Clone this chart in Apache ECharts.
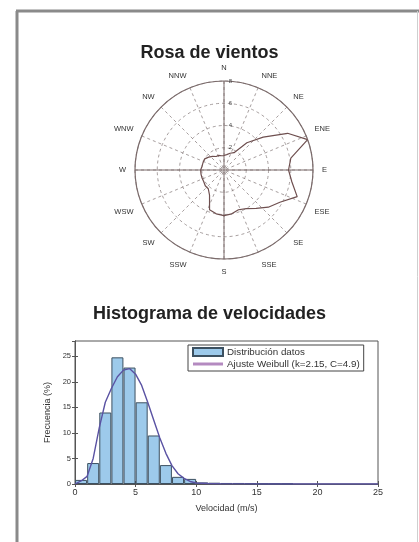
<!DOCTYPE html>
<html><head><meta charset="utf-8">
<script src="https://cdn.jsdelivr.net/npm/echarts@6/dist/echarts.min.js"></script>
<style>html,body{margin:0;padding:0;background:#fff}#c{width:419px;height:542px}</style>
</head><body><div id="c"></div>
<script>
// ---- Wind rose data ----
const directionLabels = ['N','NNE','NE','ENE','E','ESE','SE','SSE','S','SSW','SW','WSW','W','WNW','NW','NNW'];
const roseBearings = [0,10,20,30,40,50,60,70,80,90,100,110,120,130,140,150,160,170,180,190,200,210,220,230,240,250,260,270,280,290,300,310,320,330,340,350];
const roseValues = [1.3,1.4,1.6,1.8,3.2,4.6,6.6,8.0,6.1,5.8,6.2,7.0,5.8,5.2,4.5,4.0,3.8,4.0,4.1,4.0,3.8,2.6,2.2,2.2,2.1,2.1,2.1,2.1,2.0,2.0,2.0,1.8,1.6,1.4,1.4,1.3];
const radiusTicks = [2,4,6,8];

// ---- Histogram data ----
const binCenters = [0.5,1.5,2.5,3.5,4.5,5.5,6.5,7.5,8.5,9.5,10.5,11.5,12.5,13.5,14.5,15.5,16.5,17.5];
const binFreq = [0.8,4.1,14.0,24.8,22.8,16.0,9.5,3.7,1.4,1.0,0.3,0.25,0.2,0.2,0.15,0.1,0.1,0.1];
const fitX = [0,0.5,1,1.5,2,2.5,3,3.5,4,4.5,5,5.5,6,6.5,7,7.5,8,8.5,9,9.5,10,11,12,14,16,18,20,22,25];
const fitY = [0,0.6,1.5,5.0,11.0,16.0,18.7,21.0,22.3,22.6,21.5,19.3,16.0,12.5,9.0,6.0,3.6,2.0,1.1,0.5,0.2,0.1,0.05,0.02,0.01,0,0,0,0];
const xTicks = [0,5,10,15,20,25];
const yTicks = [0,5,10,15,20,25];

const chart = echarts.init(document.getElementById('c'), null, {renderer:'canvas'});
const gridCol = '#8f8585';
const font = 'Liberation Sans, Arial, sans-serif';

const roseData = roseBearings.map((b,i)=>[roseValues[i], b]);
roseData.push([roseValues[0], roseBearings[0]]);

const option = {
  backgroundColor:'#fff',
  animation:false,
  title:[
    {text:'Rosa de vientos', left:'center', top:39, textStyle:{fontFamily:font, fontSize:18, fontWeight:'bold', color:'#222'}},
    {text:'Histograma de velocidades', left:'center', top:300, textStyle:{fontFamily:font, fontSize:18, fontWeight:'bold', color:'#222'}}
  ],
  graphic:[
    {type:'line', shape:{x1:17, y1:11, x2:17, y2:542}, style:{stroke:'#8a8a8a', lineWidth:3}},
    {type:'line', shape:{x1:16, y1:11, x2:419, y2:11}, style:{stroke:'#8a8a8a', lineWidth:3}},
    {type:'line', shape:{x1:417.5, y1:11, x2:417.5, y2:542}, style:{stroke:'#cfcfcf', lineWidth:1}}
  ],
  polar:[
    {center:[224,170], radius:89},
    {center:[224,170], radius:89}
  ],
  angleAxis:[
    {polarIndex:0, type:'value', min:0, max:360, interval:22.5, startAngle:90, clockwise:true,
     axisLine:{show:true, lineStyle:{color:'#7a6a6a', width:1.2}},
     axisTick:{show:false},
     axisLabel:{margin:9, fontSize:7.5, fontFamily:font, color:'#333',
       formatter:v=>directionLabels[Math.round(v/22.5)%16]},
     splitLine:{show:true, lineStyle:{color:gridCol, type:[3,3], width:0.8}}},
    {polarIndex:1, type:'value', min:0, max:360, interval:90, startAngle:90,
     axisLine:{show:false}, axisTick:{show:false}, axisLabel:{show:false},
     splitLine:{show:true, lineStyle:{color:'#7a6a6a', width:1}}}
  ],
  radiusAxis:[
    {polarIndex:0, type:'value', min:0, max:8, interval:2,
     axisLine:{show:false}, axisTick:{show:false},
     axisLabel:{show:true, fontSize:6, fontFamily:font, color:'#444', margin:-8, formatter:v=>v===0?'':String(v)},
     splitLine:{show:true, lineStyle:{color:gridCol, type:[3,3], width:0.8}}},
    {polarIndex:1, type:'value', min:0, max:8,
     axisLine:{show:false}, axisTick:{show:false}, axisLabel:{show:false}, splitLine:{show:false}}
  ],
  grid:{left:75, right:41, top:341, bottom:58, show:true, borderColor:'#555', borderWidth:1, backgroundColor:'transparent'},
  xAxis:[
    {type:'value', min:0, max:25, interval:5, name:'Velocidad (m/s)', nameLocation:'middle', nameGap:20,
     nameTextStyle:{fontSize:9, fontFamily:font, color:'#333'},
     axisLine:{show:true, lineStyle:{color:'#555'}},
     axisTick:{show:true, inside:true, length:3, lineStyle:{color:'#555'}},
     axisLabel:{fontSize:9, fontFamily:font, color:'#333', margin:4},
     splitLine:{show:false}},
    {type:'value', min:0, max:25, interval:5, position:'top',
     axisLine:{show:true, lineStyle:{color:'#555'}},
     axisTick:{show:true, inside:true, length:3, lineStyle:{color:'#555'}},
     axisLabel:{show:false}, splitLine:{show:false}}
  ],
  yAxis:[
    {type:'value', min:0, max:28, interval:5, name:'Frecuencia (%)', nameLocation:'middle', nameGap:18,
     nameTextStyle:{fontSize:9, fontFamily:font, color:'#333'},
     axisLine:{show:true, lineStyle:{color:'#555'}},
     axisTick:{show:true, inside:true, length:3, lineStyle:{color:'#555'}},
     axisLabel:{fontSize:7.5, fontFamily:font, color:'#333', margin:4, showMaxLabel:false,
       formatter:v=>yTicks.indexOf(v)>=0?String(v):''},
     splitLine:{show:false}},
    {type:'value', min:0, max:28, interval:5, position:'right',
     axisLine:{show:true, lineStyle:{color:'#555'}},
     axisTick:{show:true, inside:true, length:3, lineStyle:{color:'#555'}},
     axisLabel:{show:false}, splitLine:{show:false}}
  ],
  legend:{
    orient:'vertical', left:188, top:345, itemWidth:30, itemHeight:8, itemGap:2,
    padding:[2,4,2,4], backgroundColor:'#fff', borderColor:'#444', borderWidth:1, borderRadius:0,
    textStyle:{fontSize:9.8, fontFamily:font, color:'#333', padding:[0,0,0,-1]},
    data:[{name:'Distribución datos', icon:'rect'},
          {name:'Ajuste Weibull (k=2.15, C=4.9)', icon:'path://M0,45 L100,45 L100,55 L0,55 Z'}]
  },
  series:[
    {type:'line', coordinateSystem:'polar', polarIndex:0, data:roseData, symbol:'none',
     lineStyle:{color:'#6e4f4f', width:1.2}, silent:true},
    {name:'Distribución datos', type:'bar', xAxisIndex:0, yAxisIndex:0, barWidth:12,
     data:binCenters.map((x,i)=>[x, binFreq[i]]),
     itemStyle:{color:'#9dcaeb', borderColor:'#3c5060', borderWidth:1}},
    {name:'Ajuste Weibull (k=2.15, C=4.9)', type:'line', xAxisIndex:0, yAxisIndex:0, symbol:'none',
     data:fitX.map((x,i)=>[x, fitY[i]]),
     lineStyle:{color:'#5a52a3', width:1.4}, itemStyle:{color:'#b48ac0'}}
  ]
};
chart.setOption(option);
</script></body></html>
